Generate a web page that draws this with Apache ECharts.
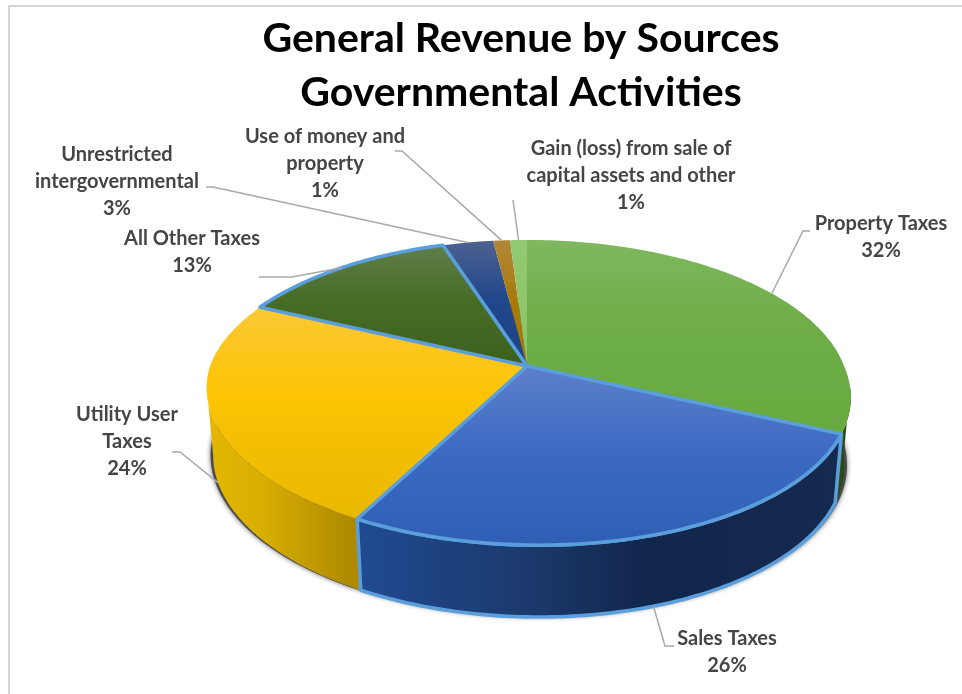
<!DOCTYPE html>
<html>
<head>
<meta charset="utf-8">
<style>html,body{margin:0;padding:0;background:#fff}#chart{width:962px;height:694px}</style>
<script src="https://cdn.jsdelivr.net/npm/echarts@6/dist/echarts.min.js"></script>
</head>
<body>
<div id="chart"></div>
<script>
// Revenue shares, clockwise from twelve o'clock
const sources = ['Property Taxes', 'Sales Taxes', 'Utility User Taxes', 'All Other Taxes',
  'Unrestricted intergovernmental', 'Use of money and property', 'Gain (loss) from sale of capital assets and other'];
const shares = [32, 26, 24, 13, 3, 1, 1];
const labelLines = [
  ['Property Taxes'], ['Sales Taxes'], ['Utility User', 'Taxes'], ['All Other Taxes'],
  ['Unrestricted', 'intergovernmental'], ['Use of money and', 'property'],
  ['Gain (loss) from sale of', 'capital assets and other']
];

// Where each label sits and how its leader line bends on the way to the slice
const labelLayout = [
  { x: 881, y: 224, path: [[810, 231], [803, 231]] },
  { x: 727, y: 639, path: [[674, 646], [665, 646]] },
  { x: 127, y: 415, path: [[172, 452], [180, 452]] },
  { x: 192, y: 239, path: [[259, 277], [292, 277]] },
  { x: 117, y: 155, path: [[206, 187], [213, 187]] },
  { x: 325, y: 137, path: [[395, 151], [402, 151]] },
  { x: 631, y: 149, path: [[513, 200]] }
];

// Perspective projection of the pie disc and of its underside
const apex = { x: 527, y: 366 };
const tilt = 0.174, radiusX = 317, radiusY = 148, skew = -10;
const floor = { y: 433, scale: 0.98, radiusY: 152 };

function project(deg, ring, scale) {
  const t = deg * Math.PI / 180, u = Math.sin(t), v = Math.cos(t), w = 1 + tilt * v;
  const s = scale || (ring ? floor.scale : 1);
  const lean = v < 0 ? skew * v : 0;
  return [
    apex.x + (s * radiusX * u + lean) / w,
    ring ? floor.y - floor.radiusY * v / w : apex.y - radiusY * v / w
  ];
}
function arc(from, to, ring, scale) {
  const pts = [], n = Math.max(2, Math.ceil(Math.abs(to - from)));
  for (let i = 0; i <= n; i++) pts.push(project(from + (to - from) * i / n, ring, scale));
  return pts;
}
const G = (x, y, x2, y2, stops) => new echarts.graphic.LinearGradient(x, y, x2, y2,
  stops.map((c) => ({ offset: c[0], color: c[1] })), true);
const vertical = (stops) => G(0, 240, 0, 545, stops);
const horizontal = (stops) => G(212, 0, 850, 0, stops);

const topFills = [
  vertical([[0, '#7fb85f'], [0.25, '#6fae48'], [1, '#62a537']]),
  vertical([[0.4, '#5f80cb'], [0.7, '#3c6ac3'], [1, '#2f5fb4']]),
  vertical([[0.2, '#fcc93a'], [0.5, '#fcc404'], [1, '#e4b600']]),
  vertical([[0, '#61804e'], [0.2, '#466c25'], [0.45, '#3a5f1c']]),
  vertical([[0, '#4d6190'], [0.2, '#20468b'], [1, '#1d4280']]),
  vertical([[0, '#b08739'], [0.2, '#a87a08'], [1, '#a57700']]),
  vertical([[0, '#92c972'], [1, '#7ebc55']])
];
const wallFills = [
  '#2c4a14',
  horizontal([[0.22, '#214b92'], [0.52, '#1a3768'], [0.68, '#12264c'], [1, '#16294f']]),
  horizontal([[0, '#e3b602'], [0.08, '#d8ae02'], [0.22, '#ad8a00']]),
  '#2c4a14', '#1d3c72', '#8a6400', '#6a9c46'
];
const edge = '#5a9edb';
const outlined = [false, true, false, true, false, false, false];
const total = shares.reduce((a, b) => a + b, 0);
const wallStart = 98, wallEnd = 262;

function renderSlice(params, api) {
  const i = params.dataIndex;
  const before = shares.slice(0, i).reduce((a, b) => a + b, 0);
  const a0 = before / total * 360;
  const a1 = (before + api.value(0)) / total * 360;
  const mid = (a0 + a1) / 2;
  const children = [];
  const stroke = outlined[i] ? { stroke: edge, lineWidth: 3.6, lineJoin: 'round' } : { stroke: null };

  if (i === 0) {
    // soft contact shadow under the whole disc
    children.push({
      type: 'polygon', z2: 1, shape: { points: arc(0, 360, true, 0.988) },
      style: { fill: '#4a4a4a', shadowBlur: 5, shadowColor: 'rgba(0,0,0,0.6)', shadowOffsetX: 0, shadowOffsetY: 0 }
    });
  }
  const w0 = Math.max(a0, wallStart), w1 = Math.min(a1, wallEnd);
  if (w1 > w0) {
    children.push({
      type: 'polygon', z2: outlined[i] ? 4 : 2,
      shape: { points: arc(w0, w1, false).concat(arc(w1, w0, true)) },
      style: Object.assign({ fill: wallFills[i] }, stroke)
    });
  }
  children.push({
    type: 'polygon', z2: outlined[i] ? 5 : 3,
    shape: { points: [[apex.x, apex.y]].concat(arc(a0, a1, false)) },
    style: Object.assign({ fill: topFills[i] }, stroke)
  });

  // leader line, ending on the middle of the slice's visible rim
  const layout = labelLayout[i];
  const anchor = project(mid, mid > wallStart && mid < wallEnd);
  children.push({
    type: 'polyline', z2: 6,
    shape: { points: layout.path.concat([anchor]) },
    style: { fill: null, stroke: '#a9a9a9', lineWidth: 1.5 }
  });
  labelLines[i].concat([api.value(0) + '%']).forEach((line, k) => {
    children.push({
      type: 'text', z2: 7,
      style: {
        x: layout.x, y: layout.y + k * 26.7, text: line, align: 'center', verticalAlign: 'middle',
        fontFamily: 'Lato', fontWeight: 'bold', fontSize: 20, fill: '#454545'
      }
    });
  });
  return { type: 'group', children };
}

const chart = echarts.init(document.getElementById('chart'), null, { renderer: 'canvas' });
chart.setOption({
  animation: false,
  backgroundColor: '#ffffff',
  title: {
    text: 'General Revenue by Sources\nGovernmental Activities',
    left: 516, top: 7, textAlign: 'center',
    textStyle: { fontFamily: 'Lato', fontWeight: 'bold', fontSize: 41, lineHeight: 54, color: '#000000' }
  },
  graphic: [{
    type: 'polyline', silent: true,
    shape: { points: [[9, 694], [9, 6], [962, 6]] },
    style: { fill: null, stroke: '#c6c6c6', lineWidth: 1.5 }
  }],
  series: [{
    type: 'custom',
    coordinateSystem: 'none',
    renderItem: renderSlice,
    data: sources.map((name, i) => ({ name, value: shares[i] }))
  }]
});
</script>
</body>
</html>
